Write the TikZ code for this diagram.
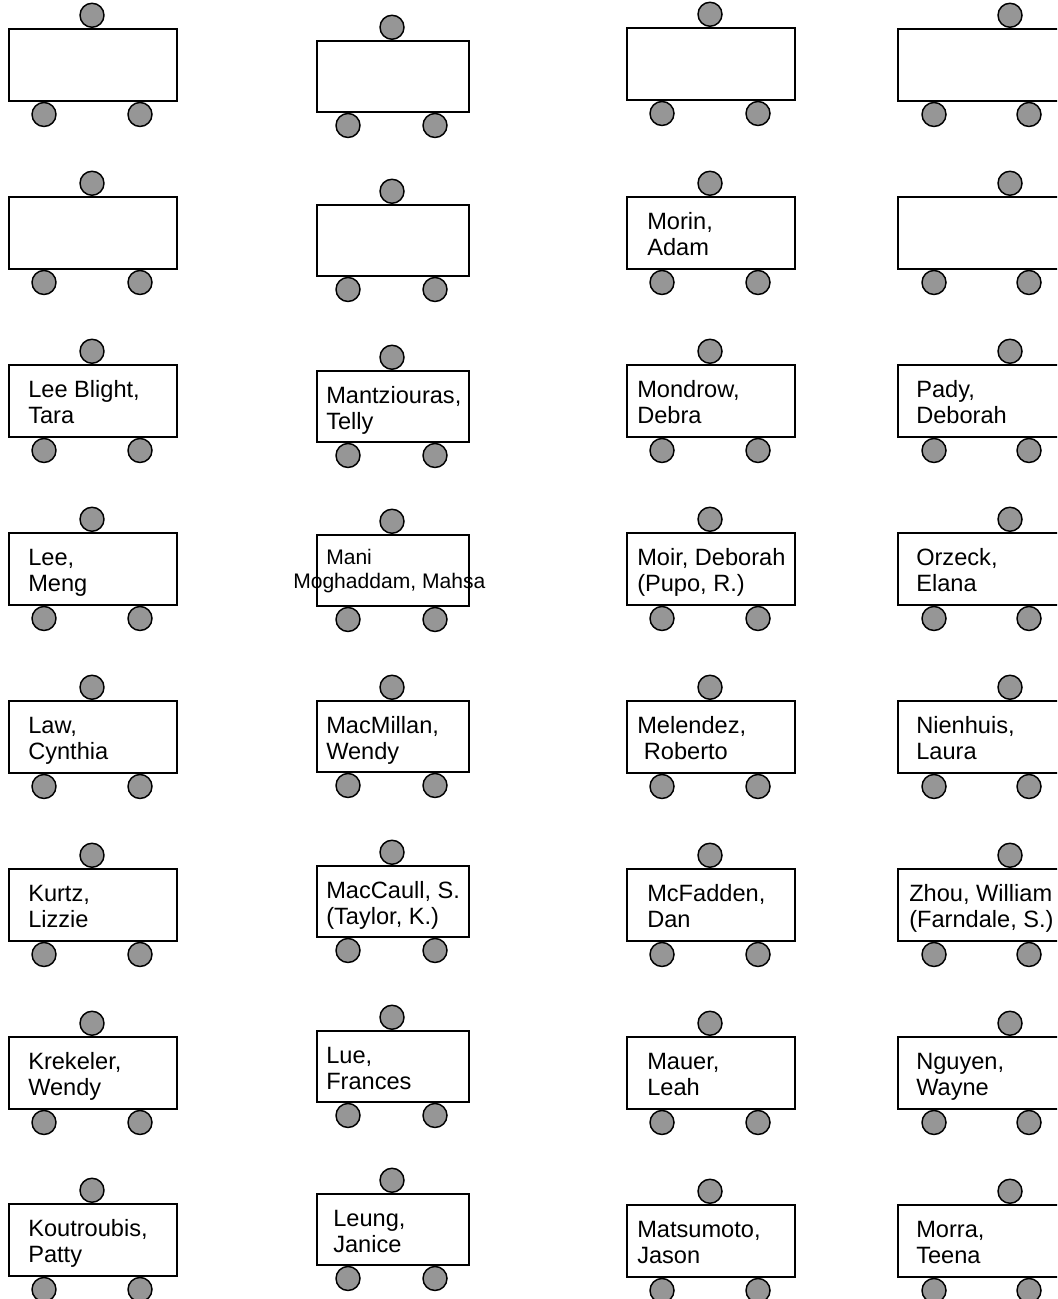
\documentclass[tikz,border=0pt]{standalone}
\usepackage{fontspec}
\setmainfont{Liberation Sans}
\usepackage{tikz}
\usetikzlibrary{positioning,calc}
\definecolor{cSeat}{HTML}{969696}
\definecolor{cEdge}{HTML}{000000}
\tikzset{
  tbl/.style={rectangle, draw=cEdge, line width=1.3pt, fill=white, anchor=north west,
              minimum width=126pt, minimum height=54pt, inner sep=0pt},
  tblnarrow/.style={tbl, minimum width=114pt, minimum height=53.25pt},
  seat/.style={circle, draw=cEdge, line width=1.1pt, fill=cSeat,
               minimum size=18pt, inner sep=0pt},
  lbl/.style={font=\fontsize{17.7}{19.5}\selectfont, align=left, anchor=base west,
              inner sep=0pt},
  lblsmall/.style={lbl, font=\fontsize{15.8}{18}\selectfont}
}

\begin{document}
\begin{tikzpicture}[x=0.75pt, y=-0.75pt]
\clip (0,0) rectangle (1057,1299);
% Column 1
\foreach \r/\y in {1/28, 2/196, 3/364, 4/532, 5/700, 6/868, 7/1036, 8/1203} {
  \node[tbl] (a\r) at (8,\y) {};
  \node[seat, above=0pt of a\r.north west, xshift=63pt] (a\r-t) {};
  \node[seat, below=0pt of a\r.south west, xshift=27pt] (a\r-l) {};
  \node[seat, below=0pt of a\r.south west, xshift=99pt] (a\r-r) {};
}
% (labels sit on the baseline of their second line)
\foreach \r/\txt in {3/{Lee Blight,\\Tara}, 4/{Lee,\\Meng}, 5/{Law,\\Cynthia},
                     6/{Kurtz,\\Lizzie}, 7/{Krekeler,\\Wendy}, 8/{Koutroubis,\\Patty}}
  \node[lbl] (a\r-n) at ($(a\r.north west)+(20,59)$) {\txt};
% Column 2 (narrower tables)
\foreach \r/\y in {1/40, 2/204, 3/370, 4/534, 5/700, 6/865, 7/1030, 8/1193} {
  \node[tblnarrow] (b\r) at (316,\y) {};
  \node[seat, above=0pt of b\r.north west, xshift=57pt] (b\r-t) {};
  \node[seat, below=0pt of b\r.south west, xshift=24pt] (b\r-l) {};
  \node[seat, below=0pt of b\r.south west, xshift=89.25pt] (b\r-r) {};
}
\foreach \r/\dx/\txt in {3/10/{Mantziouras,\\Telly}, 5/10/{MacMillan,\\Wendy},
                         6/10/{MacCaull, S.\\(Taylor, K.)}, 7/10/{Lue,\\Frances},
                         8/17/{Leung,\\Janice}}
  \node[lbl] (b\r-n) at ($(b\r.north west)+(\dx,59)$) {\txt};
\node[lblsmall] (b4-n) at ($(b4.north west)+(-23,54)$) {\hspace*{24.75pt}Mani\\Moghaddam, Mahsa};
% Column 3
\foreach \r/\y in {1/27, 2/196, 3/364, 4/532, 5/700, 6/868, 7/1036, 8/1204} {
  \node[tbl] (c\r) at (626,\y) {};
  \node[seat, above=0pt of c\r.north west, xshift=63pt] (c\r-t) {};
  \node[seat, below=0pt of c\r.south west, xshift=27pt] (c\r-l) {};
  \node[seat, below=0pt of c\r.south west, xshift=99pt] (c\r-r) {};
}
\foreach \r/\dx/\txt in {2/21/{Morin,\\Adam}, 3/11/{Mondrow,\\Debra},
                         4/11/{Moir, Deborah\\(Pupo, R.)},
                         5/11/{Melendez,\\\hspace*{0.28em}Roberto}, 6/21/{McFadden,\\Dan},
                         7/21/{Mauer,\\Leah}, 8/11/{Matsumoto,\\Jason}}
  \node[lbl] (c\r-n) at ($(c\r.north west)+(\dx,59)$) {\txt};
% Column 4 (runs off the right edge)
\foreach \r/\y in {1/28, 2/196, 3/364, 4/532, 5/700, 6/868, 7/1036, 8/1204} {
  \node[tbl] (d\r) at (897,\y) {};
  \node[seat, above=0pt of d\r.north west, xshift=84.75pt] (d\r-t) {};
  \node[seat, below=0pt of d\r.south west, xshift=27.75pt] (d\r-l) {};
  \node[seat, below=0pt of d\r.south west, xshift=99pt] (d\r-r) {};
}
\foreach \r/\dx/\txt in {3/19/{Pady,\\Deborah}, 4/19/{Orzeck,\\Elana},
                         5/19/{Nienhuis,\\Laura}, 6/12/{Zhou, William\\(Farndale, S.)},
                         7/19/{Nguyen,\\Wayne}, 8/19/{Morra,\\Teena}}
  \node[lbl] (d\r-n) at ($(d\r.north west)+(\dx,59)$) {\txt};
\end{tikzpicture}
\end{document}
